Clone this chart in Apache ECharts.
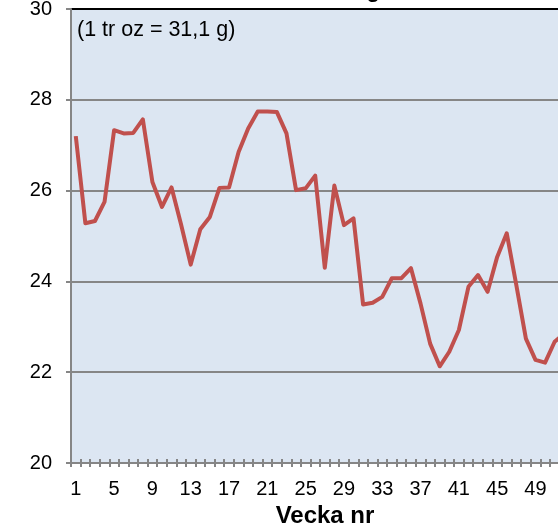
<!DOCTYPE html>
<html>
<head>
<meta charset="utf-8">
<script src="https://cdn.jsdelivr.net/npm/echarts@6/dist/echarts.min.js"></script>
<style>
  html, body { margin: 0; padding: 0; background: #fff; }
  #chart { width: 558px; height: 524px; }
</style>
</head>
<body>
<div id="chart"></div>
<script>
// veckor 1-52
let weeks = []
for (let i = 1; i <= 52; i++) weeks.push(String(i))

let prices = [
  27.20, 25.28, 25.33, 25.75, 27.33, 27.26, 27.27, 27.57, 26.19, 25.64,
  26.07, 25.25, 24.37, 25.15, 25.42, 26.06, 26.07, 26.85, 27.37, 27.74,
  27.74, 27.73, 27.26, 26.01, 26.05, 26.33, 24.30, 26.11, 25.24, 25.39,
  23.49, 23.53, 23.66, 24.07, 24.07, 24.29, 23.51, 22.63, 22.13, 22.45,
  22.93, 23.88, 24.14, 23.77, 24.54, 25.06, 23.92, 22.74, 22.27, 22.21,
  22.67, 22.85
]

let yTicks = [20, 22, 24, 26, 28, 30]

let chart = echarts.init(document.getElementById('chart'))

let xBase = {
  type: 'category',
  data: weeks,
  boundaryGap: true,
  position: 'bottom',
  axisLine: { show: true, lineStyle: { color: '#868686', width: 2 } },
  axisTick: { show: true, interval: 0, length: 4, lineStyle: { color: '#868686', width: 2 } }
}

let option = {
  backgroundColor: '#ffffff',
  animation: false,
  textStyle: { fontFamily: 'Liberation Sans, Arial, sans-serif' },
  grid: {
    left: 71,
    top: 9,
    width: 498,
    bottom: 61,
    outerBoundsMode: 'none',
    containLabel: false,
    show: true,
    backgroundColor: '#dce6f2',
    borderWidth: 0
  },
  graphic: [
    {
      type: 'text',
      left: 77,
      top: 19,
      style: { text: '(1 tr oz = 31,1 g)', fontSize: 21.5, fill: '#000', fontFamily: 'Liberation Sans' }
    },
    {
      type: 'text',
      x: 380,
      y: -20,
      style: { text: 'Guld i GBP/g', fontSize: 22, fontWeight: 'bold', fill: '#000', align: 'right', verticalAlign: 'top', fontFamily: 'Liberation Sans' }
    }
  ],
  xAxis: [
    Object.assign({}, xBase, {
      axisTick: Object.assign({}, xBase.axisTick, { inside: false }),
      axisLabel: { interval: 3, fontSize: 20, color: '#000', margin: 16 },
      name: 'Vecka nr',
      nameLocation: 'middle',
      nameGap: 39,
      nameTextStyle: { fontSize: 24, fontWeight: 'bold', color: '#000', padding: [0, 0, 0, 10] }
    }),
    Object.assign({}, xBase, {
      axisTick: Object.assign({}, xBase.axisTick, { inside: true }),
      axisLabel: { show: false }
    })
  ],
  yAxis: {
    type: 'value',
    min: 20,
    max: 30,
    interval: 2,
    axisLine: { show: true, lineStyle: { color: '#868686', width: 2 } },
    axisTick: { show: true, length: 5, lineStyle: { color: '#868686', width: 2 } },
    axisLabel: { fontSize: 20, color: '#000', margin: 19 },
    splitLine: {
      show: true,
      lineStyle: {
        color: ['#868686', '#868686', '#868686', '#868686', '#868686', '#000000'],
        width: 2
      }
    }
  },
  series: [
    {
      type: 'line',
      data: prices,
      xAxisIndex: 0,
      symbol: 'none',
      lineStyle: { color: '#c0504d', width: 4, join: 'round' },
      itemStyle: { color: '#c0504d' }
    }
  ]
}

chart.setOption(option)
</script>
</body>
</html>
